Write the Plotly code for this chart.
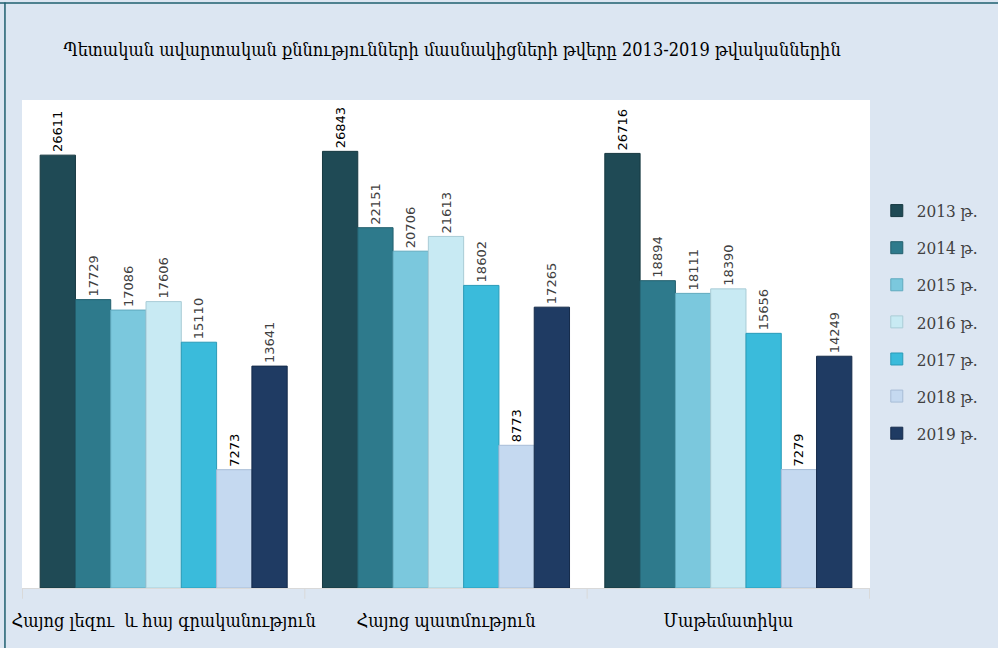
import plotly.graph_objects as go

categories = ["Հայոց լեզու  և հայ գրականություն", "Հայոց պատմություն", "Մաթեմատիկա"]
years = ["2013 թ.", "2014 թ.", "2015 թ.", "2016 թ.", "2017 թ.", "2018 թ.", "2019 թ."]
values = {
    "2013 թ.": [26611, 26843, 26716],
    "2014 թ.": [17729, 22151, 18894],
    "2015 թ.": [17086, 20706, 18111],
    "2016 թ.": [17606, 21613, 18390],
    "2017 թ.": [15110, 18602, 15656],
    "2018 թ.": [7273, 8773, 7279],
    "2019 թ.": [13641, 17265, 14249],
}
colors = ["#1F4A55", "#2E7A8C", "#7BC8DD", "#C8EAF3", "#3ABBDB", "#C5D9F0", "#1F3B63"]
line_colors = ["#163840", "#235F6D", "#5FA9BE", "#A9CCD6", "#2A9BB8", "#A7BCD6", "#152B4A"]
label_colors = ["#000000", "#404040", "#404040", "#404040", "#404040", "#000000", "#404040"]

title_text = "Պետական ավարտական քննությունների մասնակիցների թվերը 2013-2019 թվականներին"
serif = "DejaVu Serif Condensed, DejaVu Serif"

fig = go.Figure()
for i, y in enumerate(years):
    fig.add_trace(go.Bar(
        name=y,
        x=categories,
        y=values[y],
        marker=dict(color=colors[i], line=dict(color=line_colors[i], width=1)),
        text=[str(v) for v in values[y]],
        textposition="outside",
        textangle=-90,
        constraintext="none",
        cliponaxis=False,
        textfont=dict(family="DejaVu Sans", size=13, color=label_colors[i]),
        legendgroup=y,
    ))

fig.update_layout(
    width=998, height=648,
    barmode="group",
    bargap=0.125,
    bargroupgap=0,
    paper_bgcolor="#DCE6F2",
    plot_bgcolor="#FFFFFF",
    margin=dict(l=22, r=128, t=100, b=60),
    title=dict(text=title_text, x=0.453, xanchor="center", y=0.923, yanchor="middle",
               font=dict(family=serif, size=18, color="#000000")),
    legend=dict(x=1.008, xanchor="left", y=0.545, yanchor="middle",
                font=dict(family=serif, size=17, color="#404040"),
                tracegroupgap=12, bgcolor="rgba(0,0,0,0)"),
    showlegend=True,
    xaxis=dict(showline=True, linecolor="#D9D9D9", linewidth=1,
               ticks="outside", ticklen=16, tickcolor="rgba(0,0,0,0)", showgrid=False,
               tickfont=dict(family=serif, size=18, color="#000000")),
    yaxis=dict(range=[0, 30000], visible=False, showgrid=False),
    shapes=[
        dict(type="line", xref="paper", yref="paper", x0=-0.0201, x1=-0.0201, y0=-0.2, y1=1.2,
             line=dict(color="#1F5F6F", width=1.5)),
        dict(type="line", xref="paper", yref="paper", x0=-0.03, x1=1.2, y0=1.199, y1=1.199,
             line=dict(color="#1F5F6F", width=1.5)),
    ] + [
        dict(type="line", xref="x", yref="paper", x0=k - 0.5, x1=k - 0.5, y0=0, y1=-0.022,
             line=dict(color="#D9D9D9", width=1)) for k in range(4)
    ],
)

fig.write_html("out.html",
               config={"displayModeBar": False},
               post_script="document.body.style.margin='0';document.body.style.background='#DCE6F2';document.body.style.overflow='hidden';")
